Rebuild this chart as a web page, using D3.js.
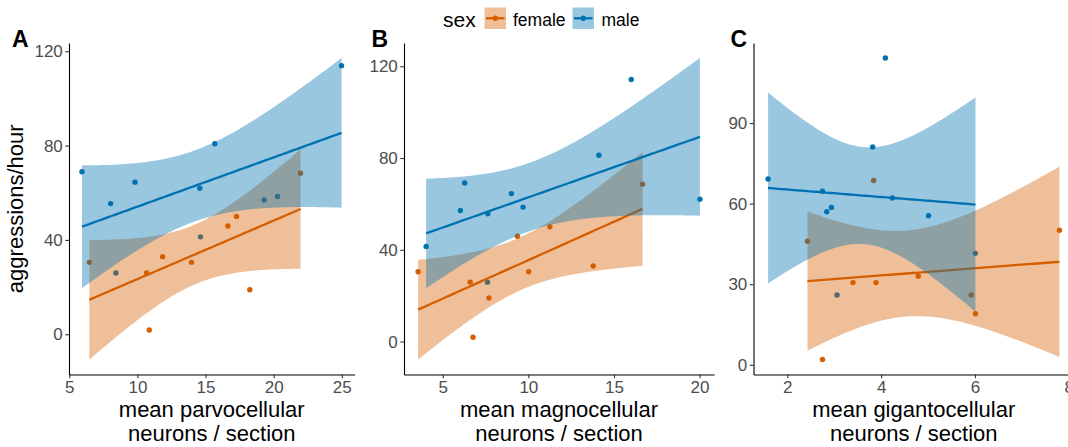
<!DOCTYPE html>
<html>
<head>
<meta charset="utf-8">
<script src="https://cdn.jsdelivr.net/npm/d3@7"></script>
<style>
  html, body { margin: 0; padding: 0; background: #fff; }
  svg { display: block; }
  text { font-family: "Liberation Sans", Arial, Helvetica, sans-serif; }
</style>
</head>
<body>
<svg id="chart" width="1068" height="447"></svg>
<script>
// ---------------- DATA ----------------
const seriesNames = ["female", "male"];
const legendTitle = "sex";
const yTitle = "aggressions/hour";

// Panel A: mean parvocellular neurons / section
const femaleXA = [6.47, 10.67, 10.87, 11.85, 13.97, 16.64, 17.27, 18.25, 21.97];
const femaleYA = [30.5, 26.0, 1.8, 32.9, 30.5, 45.9, 49.9, 18.9, 68.3];
const maleXA = [5.93, 8.03, 9.82, 14.58, 15.68, 19.3, 20.28, 24.98, 8.42, 14.63];
const maleYA = [68.9, 55.4, 64.5, 61.9, 80.8, 56.9, 58.4, 113.9, 26.0, 41.3];

// Panel B: mean magnocellular neurons / section
const femaleXB = [3.56, 6.60, 6.77, 7.70, 9.36, 10.02, 11.26, 13.79, 16.67];
const femaleYB = [30.4, 25.9, 1.9, 19.0, 45.9, 30.4, 50.0, 32.9, 68.6];
const maleXB = [4.03, 6.03, 6.28, 7.63, 9.01, 9.69, 14.12, 16.01, 20.02, 7.61];
const maleYB = [41.4, 57.1, 69.1, 55.7, 64.5, 58.6, 81.2, 114.2, 62.0, 25.9];

// Panel C: mean gigantocellular neurons / section
const femaleXC = [2.43, 2.75, 3.40, 3.84, 3.89, 4.79, 5.92, 6.01, 7.80];
const femaleYC = [46.0, 2.0, 30.6, 68.6, 30.6, 33.0, 26.0, 19.0, 50.1];
const maleXC = [1.59, 2.75, 2.84, 2.94, 3.82, 4.09, 4.24, 5.01, 6.01, 3.06];
const maleYC = [69.2, 64.6, 57.0, 58.6, 81.1, 114.2, 62.1, 55.5, 41.5, 26.0];

const panelLabels = ["A", "B", "C"];
const xTitles = [
  ["mean parvocellular", "neurons / section"],
  ["mean magnocellular", "neurons / section"],
  ["mean gigantocellular", "neurons / section"]
];
const xTicksA = [5, 10, 15, 20, 25];
const xTicksB = [5, 10, 15, 20];
const xTicksC = [2, 4, 6, 8];
const yTicksA = [0, 40, 80, 120];
const yTicksB = [0, 40, 80, 120];
const yTicksC = [0, 30, 60, 90];

// ---------------- STYLE / LAYOUT ----------------
const colors = { female: "#D55E00", male: "#0072B2" };
const ribbonAlpha = 0.4;
const FONT = '"Liberation Sans", Arial, Helvetica, sans-serif';
const plotTop = 43, plotBottom = 374.5;
const layout = [
  { left: 69,    right: 354.5, labelX: 12 },
  { left: 404,   right: 714,   labelX: 371.5 },
  { left: 753.5, right: 1074,  labelX: 730.5 }
];

// t quantiles (0.975) for small df
const tq = {1:12.706,2:4.303,3:3.182,4:2.776,5:2.571,6:2.447,7:2.364624,8:2.306004,9:2.262,10:2.228,11:2.201,12:2.179,13:2.160,14:2.145,15:2.131,16:2.120,17:2.110,18:2.101};

function lmFit(xs, ys) {
  const n = xs.length;
  const mx = d3.mean(xs), my = d3.mean(ys);
  let sxx = 0, sxy = 0;
  for (let i = 0; i < n; i++) { sxx += (xs[i]-mx)**2; sxy += (xs[i]-mx)*(ys[i]-my); }
  const b = sxy / sxx, a = my - b * mx;
  let rss = 0;
  for (let i = 0; i < n; i++) rss += (ys[i] - a - b*xs[i])**2;
  const s = Math.sqrt(rss / (n - 2));
  const t = tq[n - 2];
  const lo = d3.min(xs), hi = d3.max(xs);
  return d3.range(80).map(i => {
    const x = lo + (hi - lo) * i / 79;
    const yh = a + b * x;
    const se = s * Math.sqrt(1/n + (x - mx)**2 / sxx);
    return { x, y: yh, lo: yh - t*se, hi: yh + t*se };
  });
}

const panels = [
  { f: [femaleXA, femaleYA], m: [maleXA, maleYA], xt: xTicksA, yt: yTicksA },
  { f: [femaleXB, femaleYB], m: [maleXB, maleYB], xt: xTicksB, yt: yTicksB },
  { f: [femaleXC, femaleYC], m: [maleXC, maleYC], xt: xTicksC, yt: yTicksC }
];

const svg = d3.select("#chart");

function expand(ext) { const r = ext[1]-ext[0]; return [ext[0]-0.05*r, ext[1]+0.05*r]; }
const fmt = d3.format("d");

panels.forEach((p, pi) => {
  const L = layout[pi];
  const groups = [
    { name: "female", xs: p.f[0], ys: p.f[1] },
    { name: "male",   xs: p.m[0], ys: p.m[1] }
  ];
  groups.forEach(g => g.fit = lmFit(g.xs, g.ys));
  const allX = groups.flatMap(g => g.xs);
  const allY = groups.flatMap(g => g.ys.concat(g.fit.map(d => d.lo), g.fit.map(d => d.hi)));
  const x = d3.scaleLinear().domain(expand(d3.extent(allX))).range([L.left, L.right]);
  const y = d3.scaleLinear().domain(expand(d3.extent(allY))).range([plotBottom, plotTop]);

  const gp = svg.append("g");

  // points (drawn first; ribbons overlay them)
  groups.forEach(g => {
    gp.append("g").selectAll("circle").data(g.xs.map((v, i) => [v, g.ys[i]])).join("circle")
      .attr("cx", d => x(d[0])).attr("cy", d => y(d[1])).attr("r", 2.7)
      .attr("fill", colors[g.name]);
  });

  // ribbon + line per group
  const area = d3.area().x(d => x(d.x)).y0(d => y(d.lo)).y1(d => y(d.hi));
  const line = d3.line().x(d => x(d.x)).y(d => y(d.y));
  groups.forEach(g => {
    gp.append("path").datum(g.fit).attr("d", area)
      .attr("fill", colors[g.name]).attr("fill-opacity", ribbonAlpha).attr("stroke", "none");
    gp.append("path").datum(g.fit).attr("d", line)
      .attr("fill", "none").attr("stroke", colors[g.name]).attr("stroke-width", 2.3);
  });

  // axes
  const ax = gp.append("g").attr("transform", `translate(0,${plotBottom})`)
    .call(d3.axisBottom(x).tickValues(p.xt).tickFormat(fmt).tickSize(3.7).tickSizeOuter(0).tickPadding(3));
  const ay = gp.append("g").attr("transform", `translate(${L.left},0)`)
    .call(d3.axisLeft(y).tickValues(p.yt).tickFormat(fmt).tickSize(3.7).tickSizeOuter(0).tickPadding(2.5));
  [ax, ay].forEach(a => {
    a.select(".domain").attr("stroke", "#000").attr("stroke-width", 1.1);
    a.selectAll(".tick line").attr("stroke", "#333").attr("stroke-width", 1.1);
    a.selectAll(".tick text").attr("fill", "#4D4D4D").style("font-size", "17px").style("font-family", FONT);
  });

  // x title
  const cx = (L.left + L.right) / 2;
  const tt = gp.append("text").attr("text-anchor", "middle").attr("fill", "#000")
    .style("font-size", "22px");
  xTitles[pi].forEach((s, i) => {
    tt.append("tspan").attr("x", cx).attr("y", 416.5 + i * 24.5).text(s);
  });

  // panel label
  gp.append("text").attr("x", L.labelX).attr("y", 46.5).text(panelLabels[pi])
    .style("font-size", "23px").style("font-weight", "bold").attr("fill", "#000");
});

// y title
svg.append("text")
  .attr("transform", `translate(23,${(plotTop + plotBottom) / 2}) rotate(-90)`)
  .attr("text-anchor", "middle").style("font-size", "22px").attr("fill", "#000")
  .text(yTitle);

// legend
const lg = svg.append("g");
lg.append("text").attr("x", 443).attr("y", 26.5).text(legendTitle)
  .style("font-size", "21px").attr("fill", "#000");
const keyX = [484.5, 572.5], labX = [513, 601.5];
seriesNames.forEach((s, i) => {
  lg.append("rect").attr("x", keyX[i]).attr("y", 7.5).attr("width", 21.5).attr("height", 21.5)
    .attr("fill", colors[s]).attr("fill-opacity", ribbonAlpha);
  lg.append("line").attr("x1", keyX[i] + 1.5).attr("x2", keyX[i] + 20).attr("y1", 18.25).attr("y2", 18.25)
    .attr("stroke", colors[s]).attr("stroke-width", 2.3);
  lg.append("circle").attr("cx", keyX[i] + 10.75).attr("cy", 18.25).attr("r", 2.7).attr("fill", colors[s]);
  lg.append("text").attr("x", labX[i]).attr("y", 25.5).text(s)
    .style("font-size", "17.5px").attr("fill", "#000");
});
</script>
</body>
</html>
